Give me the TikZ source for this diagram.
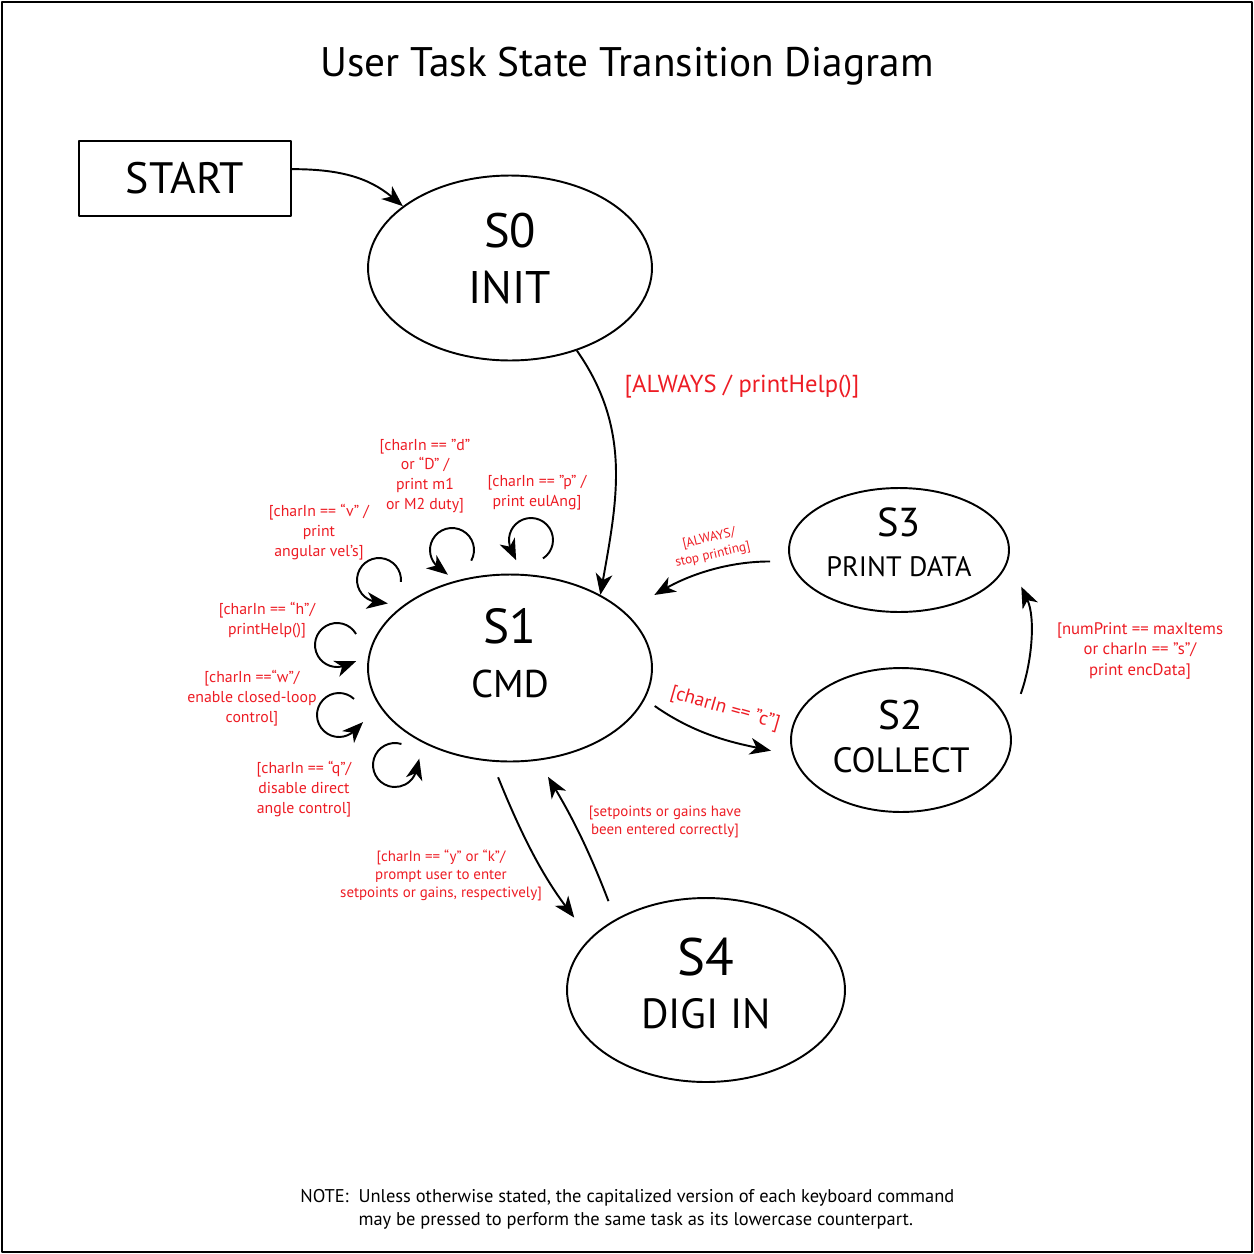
\documentclass[tikz,border=0pt]{standalone}
\usepackage{fontspec}
\setmainfont{PT Sans}
\usetikzlibrary{shapes.geometric,arrows.meta}
\definecolor{lblred}{RGB}{237,28,36}
\def\fs#1#2{\fontsize{#1}{#2}\selectfont}
\begin{document}
\begin{tikzpicture}[x=0.02cm, y=0.02cm, line join=round, >={Stealth[length=12pt,width=9.5pt,inset=3.5pt]},
  state/.style={ellipse, draw, line width=1.1pt, inner sep=0pt, align=center},
  trans/.style={->, line width=1.1pt},
  lbl/.style={text=lblred, align=center, inner sep=0pt, font=\fs{9}{11.3}}]
\useasboundingbox (0,0) rectangle (1254,-1254);
\draw[line width=1.1pt] (2,-2) rectangle (1252,-1252);
\node[font=\fs{23.5}{28}] (title) at (627,-66) {User Task State Transition Diagram};
% states
\node[draw, line width=1.1pt, minimum width=4.24cm, minimum height=1.5cm, font=\fs{25}{30}] (start) at (185,-178.5) {START};
\node[state, minimum width=5.68cm, minimum height=3.7cm, font=\fs{27.5}{31.8}, text depth=11pt] (s0) at (510,-268) {S0\\\fs{26}{31.8}INIT};
\node[state, minimum width=5.68cm, minimum height=3.74cm, font=\fs{28}{31.2}, text depth=17pt] (s1) at (510,-668) {S1\\\fs{22}{31.2}CMD};
\node[state, minimum width=4.4cm, minimum height=2.48cm, font=\fs{23}{22.7}, text depth=8.5pt] (s3) at (899,-550) {S3\\\fs{16}{22.7}PRINT DATA};
\node[state, minimum width=4.4cm, minimum height=2.88cm, font=\fs{23.5}{24.4}, text depth=4.5pt] (s2) at (901,-740) {S2\\\fs{20}{24.4}COLLECT};
\node[state, minimum width=5.56cm, minimum height=3.68cm, font=\fs{30}{30}, text depth=8pt] (s4) at (706,-990) {S4\\\fs{24}{30}DIGI IN};
% transitions
\draw[trans] (start.5) to[out=0, in=140] (s0.150);
\draw[trans] (s0.-51) to[out=-55, in=80] (s1.39);
\draw[trans, shorten <=11.3pt, shorten >=19.3pt] (s3.186) to[out=180, in=30] (s1.26);
\draw[trans, shorten <=6.8pt, shorten >=12.5pt] (s1.-13) to[out=-35, in=168] (s2.188);
\draw[trans, shorten <=18.7pt, shorten >=17pt] (s2.8) to[out=70, in=-65] (s3.-5);
\draw[trans, shorten <=9.6pt, shorten >=14.7pt] (s1.259) to[out=-68, in=127] (s4.156);
\draw[trans, shorten <=11pt, shorten >=10.8pt] (s4.142) to[bend right=5] (s1.287);
% self loops on S1
\foreach \cx/\cy/\a/\b in {-58/118/-29/232, 21/128/-57/205, -131/88/-5/262,
  -173/23/30/291, -171/-47/47/315, -115/-97/73/346}
  \draw[trans] ([shift={(\cx,\cy)}]s1.center) ++(\a:22) arc[start angle=\a, end angle=\b, radius=22] -- ++({\b+90}:12);
% labels
\node[lbl, font=\fs{14}{17}] (l01) at (742,-387) {[ALWAYS / printHelp()]};
\node[lbl, font=\fs{7.5}{9.6}, rotate=13] (l31) at (711,-547) {[ALWAYS/\\stop printing]};
\node[lbl, font=\fs{11}{13}, rotate=-16] (l12) at (725,-709) {[charIn == ”c”]};
\node[lbl, font=\fs{9.5}{11.8}] (l23) at (1140,-651) {[numPrint == maxItems\\or charIn == ”s”/\\print encData]};
\node[lbl, font=\fs{8.5}{10.2}] (l14) at (441,-875) {[charIn == “y” or “k”/\\prompt user to enter\\setpoints or gains, respectively]};
\node[lbl, font=\fs{8.5}{10.2}] (l41) at (665,-822) {[setpoints or gains have\\been entered correctly]};
\node[lbl] (ld) at (425,-476) {[charIn == ”d”\\or “D” /\\print m1\\or M2 duty]};
\node[lbl] (lp) at (537,-493) {[charIn == ”p” /\\print eulAng]};
\node[lbl] (lv) at (319,-532) {[charIn == “v” /\\print\\angular vel’s]};
\node[lbl] (lh) at (267,-620) {[charIn == “h”/\\printHelp()]};
\node[lbl] (lw) at (252,-698) {[charIn ==“w”/\\enable closed-loop\\control]};
\node[lbl] (lq) at (304,-789) {[charIn == “q”/\\disable direct\\angle control]};
\node[anchor=west, align=left, inner sep=0pt, font=\fs{10.5}{13}] (note) at (300,-1209)
  {NOTE:\ \ Unless otherwise stated, the capitalized version of each keyboard command\\\phantom{NOTE:\ \ }may be pressed to perform the same task as its lowercase counterpart.};
\end{tikzpicture}
\end{document}
